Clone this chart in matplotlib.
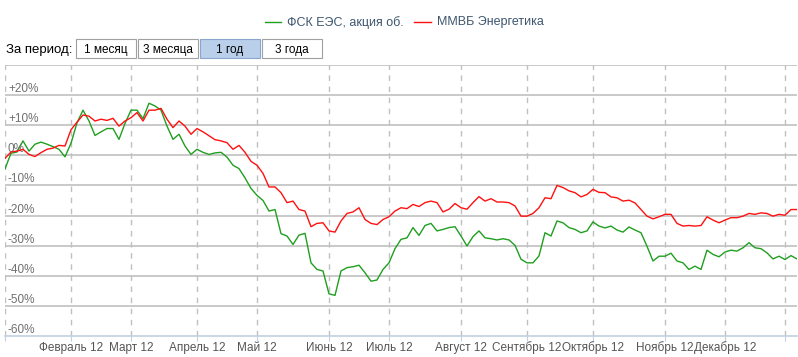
import matplotlib
matplotlib.use("Agg")
import matplotlib.pyplot as plt
from matplotlib.lines import Line2D
from matplotlib.patches import Rectangle

plt.rcParams["font.family"] = ["Liberation Sans", "DejaVu Sans"]

# relative change, %, sampled evenly over the year (one value per ~2 sessions)
fsk = [
    -4.5, 0.7, 1.1, 4.8, 1.4, 3.7, 4.4, 3.7, 2.9, 2.0,
    -0.5, 4.0, 10.8, 15.0, 11.4, 6.6, 7.8, 8.9, 8.9, 5.3,
    10.6, 15.0, 15.0, 12.2, 17.3, 16.4, 15.0, 9.7, 5.3, 7.0,
    3.1, 0.3, 2.0, 1.0, 0.3, 0.8, 1.0, -0.6, -3.3, -4.4,
    -7.5, -11.0, -13.3, -15.0, -18.5, -18.0, -26.0, -26.8, -29.6, -26.5,
    -25.9, -35.7, -37.9, -38.4, -46.0, -46.5, -38.4, -37.3, -37.0, -36.5,
    -39.0, -41.8, -41.4, -37.9, -35.7, -31.0, -27.9, -27.4, -24.0, -26.6,
    -23.3, -22.6, -25.1, -24.6, -24.0, -23.7, -26.8, -30.1, -27.0, -25.1,
    -27.4, -27.7, -28.1, -27.7, -28.1, -29.9, -34.5, -35.7, -35.7, -33.4,
    -25.7, -26.8, -21.8, -22.4, -24.0, -24.6, -25.7, -25.1, -22.1, -23.5,
    -24.1, -23.5, -24.8, -25.5, -23.8, -24.8, -25.7, -30.2, -35.1, -33.5,
    -33.5, -32.5, -35.1, -35.7, -37.9, -36.8, -37.9, -31.5, -32.9, -33.7,
    -32.1, -31.5, -31.8, -30.7, -29.0, -30.7, -31.0, -32.4, -34.4, -33.5,
    -34.6, -33.3, -34.4,
]
micex_energy = [
    -1.0, 1.1, 1.4, 2.0, 0.3, -0.4, 0.9, 2.0, 2.4, 3.3,
    3.1, 8.5, 11.0, 13.4, 13.0, 11.4, 12.0, 11.6, 12.3, 9.7,
    11.4, 12.5, 14.2, 11.4, 15.0, 15.0, 15.6, 12.0, 9.2, 11.4,
    9.7, 7.0, 8.9, 7.8, 6.5, 5.2, 4.8, 4.2, 2.0, 3.3,
    1.0, -2.0, -3.3, -6.0, -10.5, -10.5, -12.4, -15.7, -15.2, -18.0,
    -18.5, -23.7, -22.6, -22.4, -25.1, -25.5, -21.8, -19.3, -18.8, -17.4,
    -21.3, -22.6, -23.0, -21.3, -20.4, -18.5, -17.4, -17.7, -16.3, -17.0,
    -15.7, -15.2, -15.7, -18.8, -17.9, -16.0, -17.4, -17.9, -15.7, -13.7,
    -15.2, -14.4, -15.5, -15.5, -15.7, -16.8, -20.2, -20.2, -19.3, -17.4,
    -14.1, -14.4, -10.0, -10.7, -11.8, -12.4, -13.8, -13.0, -11.3, -12.3,
    -12.4, -13.8, -14.1, -15.2, -14.9, -15.8, -18.0, -20.2, -21.1, -20.4,
    -19.6, -19.6, -22.6, -23.5, -23.3, -23.5, -23.3, -20.4, -21.5, -22.4,
    -21.5, -20.7, -20.7, -20.2, -19.3, -19.6, -19.1, -19.3, -20.2, -19.6,
    -19.9, -18.0, -18.0,
]
month_idx = [0, 11, 21, 32, 42, 54, 64, 76, 87, 98, 110, 120, 130]
month_labels = ["", "Февраль 12", "Март 12", "Апрель 12", "Май 12", "Июнь 12",
                "Июль 12", "Август 12", "Сентябрь 12", "Октябрь 12",
                "Ноябрь 12", "Декабрь 12", ""]
y_levels = [20, 10, 0, -10, -20, -30, -40, -50, -60]
y_labels = ["+20%", "+10%", "0%", "-10%", "-20%", "-30%", "-40%", "-50%", "-60%"]
series_names = ["ФСК ЕЭС, акция об.", "ММВБ Энергетика"]
periods = ["1 месяц", "3 месяца", "1 год", "3 года"]

W, H = 798, 357
fig = plt.figure(figsize=(W / 100, H / 100), dpi=100)


def fx(px):
    return px / W


def fy(py):
    return 1 - py / H


ax = fig.add_axes([fx(5), fy(336), fx(797) - fx(5), fy(65) - fy(336)])
x = list(range(len(fsk)))
ax.plot(x, fsk, color="#1f9f1f", lw=1.0, zorder=3)
ax.plot(x, micex_energy, color="#ff1010", lw=1.0, zorder=4)
ax.set_xlim(0, len(fsk) - 1)
ax.set_ylim(-60, 30)

for v in range(-50, 31, 10):
    ax.axhline(v, color="#c0c0c0", lw=1.2, zorder=1)
for m in month_idx:
    ax.axvline(m, color="#c0c0c0", lw=1.0, ls=(0, (4, 4)), zorder=1)

for s in ["left", "right", "top"]:
    ax.spines[s].set_visible(False)
ax.spines["bottom"].set_color("#c0d0e0")
ax.spines["bottom"].set_linewidth(1.2)

ax.set_yticks([])
ax.set_xticks(month_idx)
ax.set_xticklabels(month_labels, fontsize=8.5, color="#555555")
ax.tick_params(axis="x", length=3.5, color="#c0d0e0", pad=0.5)

for v, lab in zip(y_levels, y_labels):
    ax.annotate(lab, xy=(0, v), xytext=(3, 6), textcoords="offset pixels",
                fontsize=8.5, color="#707070", va="center", ha="left")

# legend
leg_items = [(265, 281, 287, "#1f9f1f"), (414, 431, 437, "#ff1010")]
for (x0, x1, tx, c), name in zip(leg_items, series_names):
    fig.add_artist(Line2D([fx(x0), fx(x1)], [fy(22), fy(22)], color=c, lw=1.0))
    fig.text(fx(tx), fy(22.5), name, fontsize=9, color="#3e576f", va="center")

# period selector
fig.text(fx(6), fy(50.5), "За период:", fontsize=9.5, color="#000000", va="center")
btn_x = [76, 138, 200, 262]
for bx, lab in zip(btn_x, periods):
    selected = lab == "1 год"
    fig.add_artist(Rectangle((fx(bx), fy(58)), fx(60), fy(39) - fy(58),
                             facecolor="#b9cfea" if selected else "white",
                             edgecolor="#8aa6cc" if selected else "#a0a0a0",
                             lw=0.8))
    fig.text(fx(bx + 30), fy(50.5), lab, fontsize=8.5, color="#000000",
             ha="center", va="center")

fig.savefig("out.png", dpi=100)
